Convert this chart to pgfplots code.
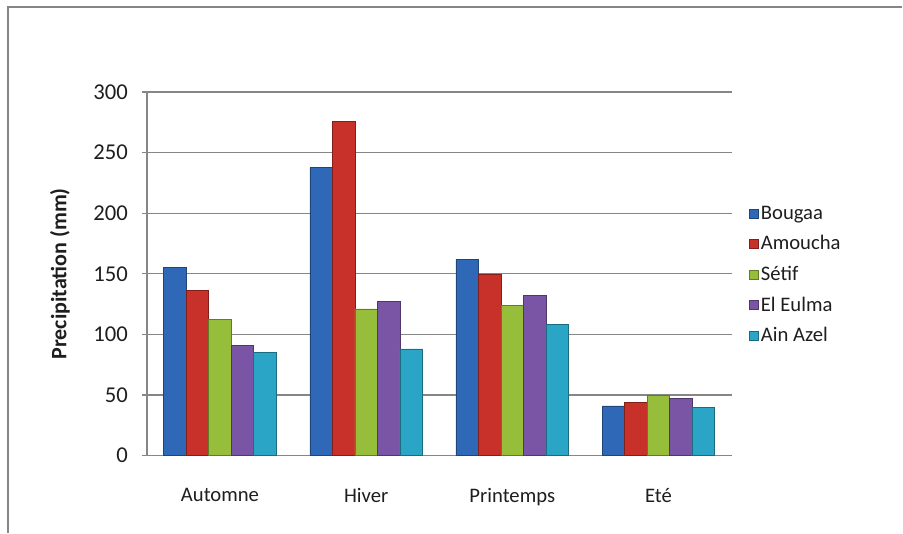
\documentclass[border=0pt]{standalone}
\usepackage{pgfplots}
\pgfplotsset{compat=1.18}
\usepackage{fontspec}
\setmainfont{Carlito}
\definecolor{cB}{RGB}{48,104,184}
\definecolor{cR}{RGB}{200,48,42}
\definecolor{cG}{RGB}{150,190,58}
\definecolor{cP}{RGB}{122,84,165}
\definecolor{cC}{RGB}{42,165,198}
\definecolor{gridc}{RGB}{134,134,134}
\definecolor{txt}{RGB}{30,30,30}
\begin{document}
\begin{tikzpicture}
\path (-110.25pt,-57.75pt) rectangle (567pt,342pt);
\draw[gridc, line width=0.9pt] (-104.25pt,-57.75pt) -- (-104.25pt,336.75pt) -- (567pt,336.75pt);
\begin{axis}[
  at={(0,0)}, anchor=south west,
  scale only axis, width=438.75pt, height=273pt,
  ybar=0pt, bar width=16.9pt,
  xmin=-0.5, xmax=3.5, ymin=0, ymax=300,
  xtick=data, xticklabels={Automne,Hiver,Printemps,Eté},
  ytick={0,50,...,300},
  axis lines*=left,
  axis line style={gridc, line width=0.9pt, -},
  ymajorgrids, grid style={gridc, line width=0.9pt},
  tick align=outside,
  major tick length=3.75pt,
  x tick style={draw=none},
  y tick style={gridc, line width=0.9pt},
  /pgf/number format/assume math mode=true,
  tick label style={font=\fontsize{15.5}{18}\selectfont, text=txt},
  yticklabel style={font=\fontsize{17}{20}\selectfont, xshift=-7pt},
  xticklabel style={yshift=-17pt},
  ylabel={\textbf{Precipitation (mm)}},
  every axis y label/.style={at={(axis description cs:-0.1487,0.5)}, rotate=90, anchor=center, font=\fontsize{16.5}{19}\selectfont, text=txt},
  legend style={at={(1.022,0.497)}, anchor=west, draw=none, fill=none,
    font=\fontsize{15.5}{18}\selectfont, text=txt, row sep=6.8pt,
    legend cell align=left},
  legend image code/.code={\fill[#1] (0pt,-3.4pt) rectangle (6.8pt,3.4pt);},
]
\addplot[fill=cB, draw=cB!65!black] coordinates {(0,155) (1,237.5) (2,162) (3,41)};
\addplot[fill=cR, draw=cR!65!black] coordinates {(0,136.5) (1,276) (2,149.5) (3,44)};
\addplot[fill=cG, draw=cG!65!black] coordinates {(0,112.5) (1,121) (2,124) (3,50)};
\addplot[fill=cP, draw=cP!65!black] coordinates {(0,91) (1,127.5) (2,132) (3,47.5)};
\addplot[fill=cC, draw=cC!65!black] coordinates {(0,85) (1,88) (2,108) (3,40)};
\legend{Bougaa,Amoucha,Sétif,El Eulma,Ain Azel}
\end{axis}
\end{tikzpicture}
\end{document}
